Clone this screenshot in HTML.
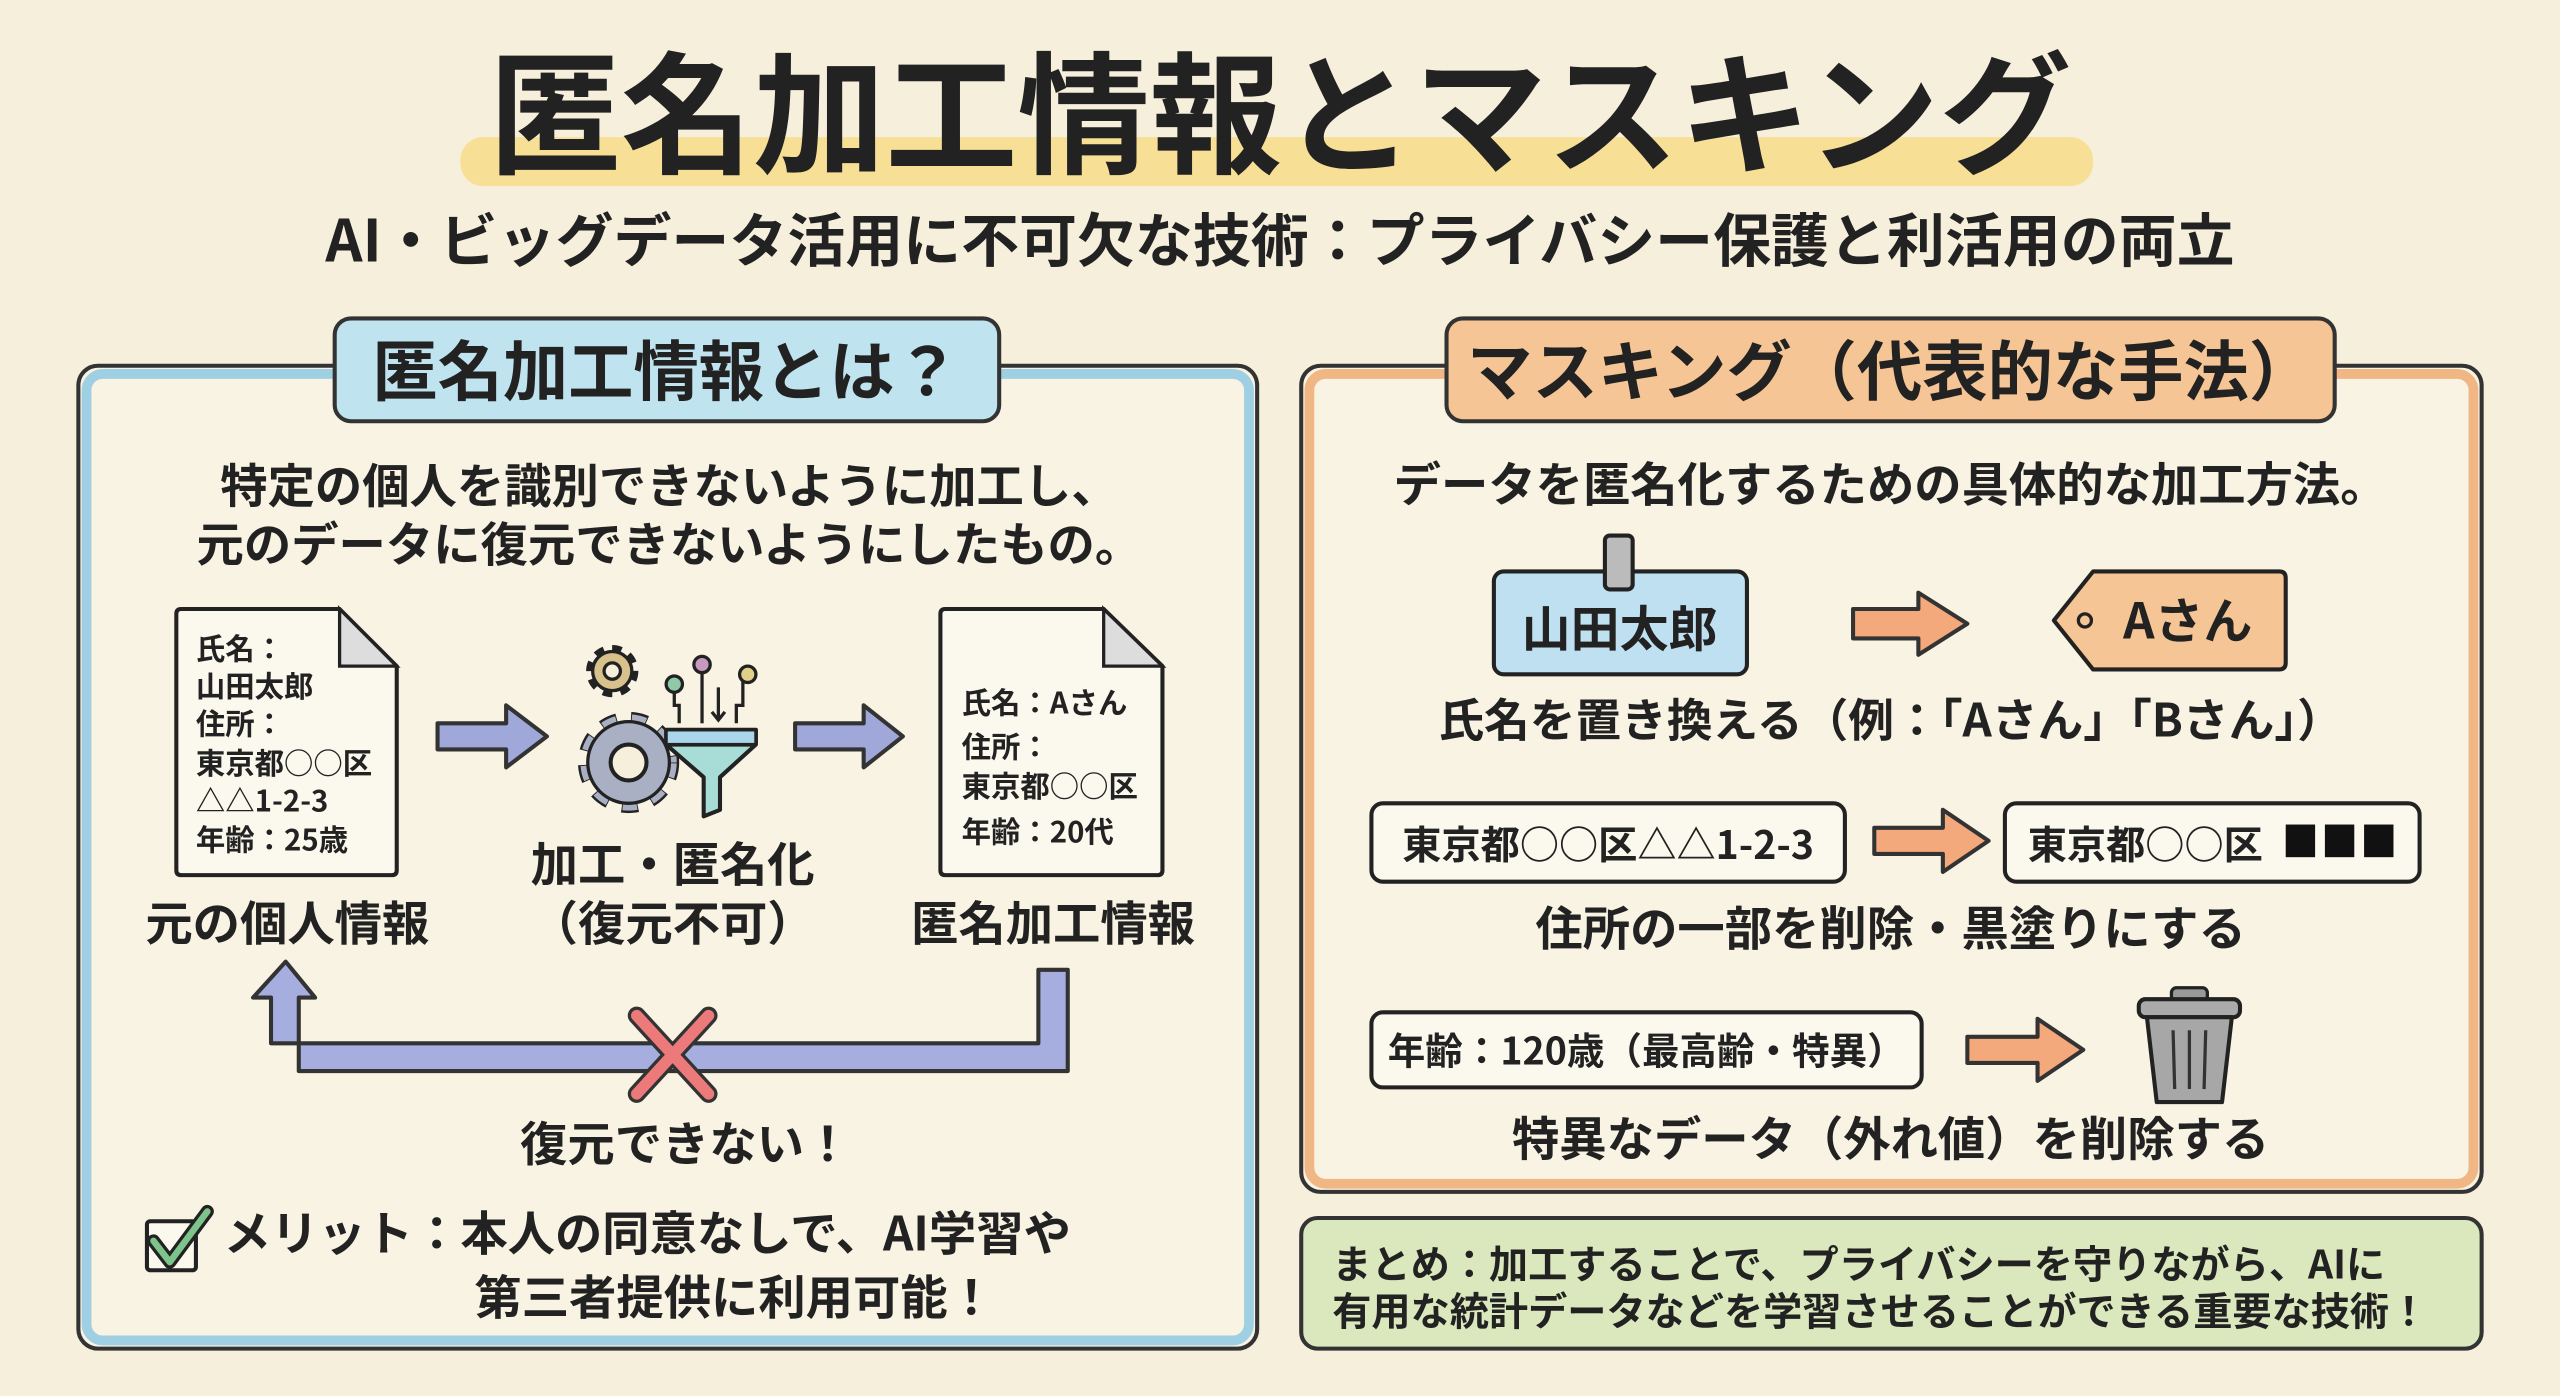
<!DOCTYPE html>
<html><head><meta charset="utf-8"><style>
html,body{margin:0;padding:0;background:#f6efdc;}
svg{display:block;}
text{font-family:"Noto Sans CJK JP","Liberation Sans",sans-serif;font-weight:700;fill:#222;}
</style></head><body>
<svg width="2560" height="1396" viewBox="0 0 1568 855" xmlns="http://www.w3.org/2000/svg">
<rect width="1568" height="855" fill="#f6efdc"/>
<rect x="282" y="84" width="1000" height="30" rx="14" fill="#f7dc8a" opacity="0.85"/>
<text x="784" y="100" font-size="81" text-anchor="middle" font-weight="900">匿名加工情報とマスキング</text>
<text x="784" y="160" font-size="35.5" text-anchor="middle">AI・ビッグデータ活用に不可欠な技術：プライバシー保護と利活用の両立</text>

<rect x="48" y="224" width="722" height="602" rx="12" fill="#f8f3e2" stroke="#333" stroke-width="2.5"/>
<rect x="53" y="229" width="712" height="592" rx="10" fill="none" stroke="#9fcfe2" stroke-width="6"/>
<rect x="205" y="195" width="407" height="63" rx="10" fill="#bfe3ef" stroke="#333" stroke-width="2.5"/>
<text x="408" y="242" font-size="40" text-anchor="middle">匿名加工情報とは？</text>
<text x="410" y="308" font-size="29" text-anchor="middle">特定の個人を識別できないように加工し、</text>
<text x="410" y="344" font-size="29" text-anchor="middle">元のデータに復元できないようにしたもの。</text>

<path d="M108 376 Q108 373 111 373 L208 373 L243 408 L243 533 Q243 536 240 536 L111 536 Q108 536 108 533 Z" fill="#fbf8ee" stroke="#222" stroke-width="2.5"/>
<path d="M208 373 L208 408 L243 408 Z" fill="#ddd" stroke="#222" stroke-width="2"/>
<g font-size="18" font-weight="700">
<text x="120" y="404">氏名：</text><text x="120" y="427">山田太郎</text><text x="120" y="450">住所：</text>
<text x="120" y="474">東京都○○区</text><text x="120" y="497">△△1-2-3</text><text x="120" y="521">年齢：25歳</text></g>
<path d="M576 376 Q576 373 579 373 L676 373 L712 408 L712 533 Q712 536 709 536 L579 536 Q576 536 576 533 Z" fill="#fbf8ee" stroke="#222" stroke-width="2.5"/>
<path d="M676 373 L676 408 L712 408 Z" fill="#ddd" stroke="#222" stroke-width="2"/>
<g font-size="18" font-weight="700">
<text x="589" y="437">氏名：Aさん</text><text x="589" y="464">住所：</text><text x="589" y="488">東京都○○区</text><text x="589" y="516">年齢：20代</text></g>
<path d="M268 443 L310 443 L310 432 L335 451 L310 470 L310 459 L268 459 Z" fill="#9fa8d8" stroke="#333" stroke-width="2.5" stroke-linejoin="round"/>
<path d="M487 443 L529 443 L529 432 L553 451 L529 470 L529 459 L487 459 Z" fill="#9fa8d8" stroke="#333" stroke-width="2.5" stroke-linejoin="round"/>
<circle cx="375" cy="411" r="12" fill="none" stroke="#222" stroke-width="8" stroke-dasharray="5 4.4"/>
<circle cx="375" cy="411" r="12" fill="#d8c28c" stroke="#222" stroke-width="2"/>
<circle cx="375" cy="411" r="5" fill="#f6efdc" stroke="#222" stroke-width="2"/>
<circle cx="385" cy="467" r="25" fill="none" stroke="#222" stroke-width="12" stroke-dasharray="9 8"/>
<circle cx="385" cy="467" r="25" fill="none" stroke="#aab0c4" stroke-width="9" stroke-dasharray="8 9" stroke-dashoffset="-0.5"/>
<circle cx="385" cy="467" r="25" fill="#aab0c4" stroke="#222" stroke-width="2"/>
<circle cx="385" cy="467" r="11" fill="#f6efdc" stroke="#222" stroke-width="2.5"/>
<g stroke="#222" stroke-width="2" fill="none">
<path d="M413 423 L413 432 L416 432 L416 443"/><path d="M430 412 L430 443"/><path d="M455 417 L455 432 L451 432 L451 443"/>
<path d="M440 421 L440 440 M436 436 L440 441 L444 436"/></g>
<circle cx="413" cy="419" r="5" fill="#8fc9a8" stroke="#222" stroke-width="2"/>
<circle cx="430" cy="407" r="5" fill="#c89ac0" stroke="#222" stroke-width="2"/>
<circle cx="458" cy="413" r="5" fill="#e2cf8a" stroke="#222" stroke-width="2"/>
<path d="M408 447 L463 447 L463 456 L441 476 L441 496 L431 500 L431 476 L408 456 Z" fill="#a8dcd6" stroke="#222" stroke-width="2.5" stroke-linejoin="round"/>
<line x1="408" y1="456" x2="463" y2="456" stroke="#222" stroke-width="2.5"/>
<rect x="409" y="448" width="53" height="7" fill="#a9d6ea"/>

<text x="176" y="576" font-size="29" text-anchor="middle">元の個人情報</text>
<text x="412" y="540" font-size="29" text-anchor="middle">加工・匿名化</text>
<text x="412" y="576" font-size="29" text-anchor="middle">（復元不可）</text>
<text x="645" y="576" font-size="29" text-anchor="middle">匿名加工情報</text>
<path d="M636 595 L654 595 L654 657 L183 657 L183 612 L193 612 L175 590 L155 612 L166 612 L166 640 L636 640 Z" fill="#a6aee0" stroke="#333" stroke-width="2.5" stroke-linejoin="round" transform="translate(0,-1)"/>
<path d="M390 622 L434 670 M434 622 L390 670" stroke="#333" stroke-width="11" stroke-linecap="round"/>
<path d="M390 622 L434 670 M434 622 L390 670" stroke="#ec7a7a" stroke-width="7" stroke-linecap="round"/>
<text x="420" y="711" font-size="29" text-anchor="middle">復元できない！</text>
<rect x="90" y="748" width="30" height="30" rx="2" fill="#fbf8ee" stroke="#222" stroke-width="2.5"/>
<path d="M94 760 L104 773 L127 742" stroke="#222" stroke-width="8" fill="none" stroke-linecap="round" stroke-linejoin="round"/>
<path d="M94 760 L104 773 L127 742" stroke="#7cc48a" stroke-width="4" fill="none" stroke-linecap="round" stroke-linejoin="round"/>
<text x="137" y="766" font-size="29">メリット：本人の同意なしで、AI学習や</text>
<text x="450" y="805" font-size="29" text-anchor="middle">第三者提供に利用可能！</text>

<rect x="797" y="224" width="723" height="506" rx="12" fill="#f8f3e2" stroke="#333" stroke-width="2.5"/>
<rect x="802" y="229" width="713" height="496" rx="10" fill="none" stroke="#f0b784" stroke-width="6"/>
<rect x="886" y="195" width="544" height="63" rx="10" fill="#f5c595" stroke="#333" stroke-width="2.5"/>
<text x="1158" y="242" font-size="40" text-anchor="middle">マスキング（代表的な手法）</text>
<text x="1158" y="307" font-size="29" text-anchor="middle">データを匿名化するための具体的な加工方法。</text>
<rect x="915" y="350" width="155" height="63" rx="6" fill="#bfe0f0" stroke="#222" stroke-width="2.5"/>
<rect x="983" y="328" width="17" height="33" rx="3" fill="#bbb" stroke="#222" stroke-width="2.5"/>
<text x="992" y="396" font-size="30" text-anchor="middle">山田太郎</text>
<path d="M1135 373 L1175 373 L1175 363 L1205 382 L1175 401 L1175 391 L1135 391 Z" fill="#f3a97c" stroke="#333" stroke-width="2.5" stroke-linejoin="round"/>
<path d="M1282 350 L1396 350 Q1400 350 1400 354 L1400 406 Q1400 410 1396 410 L1282 410 L1258 380 Z" fill="#f5c595" stroke="#222" stroke-width="2.5" stroke-linejoin="round"/>
<circle cx="1277" cy="380" r="4" fill="none" stroke="#222" stroke-width="2"/>
<text x="1340" y="391" font-size="30" text-anchor="middle">Aさん</text>
<text x="1158" y="451" font-size="28" text-anchor="middle">氏名を置き換える（例：「Aさん」「Bさん」）</text>
<rect x="840" y="492" width="290" height="48" rx="7" fill="#fbf8ee" stroke="#222" stroke-width="2.5"/>
<text x="985" y="526" font-size="24" text-anchor="middle">東京都○○区△△1-2-3</text>
<path d="M1148 507 L1190 507 L1190 496 L1218 515 L1190 534 L1190 523 L1148 523 Z" fill="#f3a97c" stroke="#333" stroke-width="2.5" stroke-linejoin="round"/>
<rect x="1228" y="492" width="254" height="48" rx="7" fill="#fbf8ee" stroke="#222" stroke-width="2.5"/>
<text x="1242" y="526" font-size="24">東京都○○区</text>
<rect x="1400" y="505" width="18" height="20" fill="#111"/><rect x="1424" y="505" width="18" height="20" fill="#111"/><rect x="1448" y="505" width="18" height="20" fill="#111"/>
<text x="1158" y="579" font-size="29" text-anchor="middle">住所の一部を削除・黒塗りにする</text>
<rect x="840" y="620" width="337" height="46" rx="7" fill="#fbf8ee" stroke="#222" stroke-width="2.5"/>
<text x="850" y="652" font-size="23">年齢：120歳（最高齢・特異）</text>
<path d="M1205 635 L1248 635 L1248 624 L1276 643 L1248 662 L1248 651 L1205 651 Z" fill="#f3a97c" stroke="#333" stroke-width="2.5" stroke-linejoin="round"/>
<rect x="1330" y="605" width="22" height="8" rx="3" fill="#999" stroke="#222" stroke-width="2"/>
<rect x="1310" y="612" width="62" height="11" rx="4" fill="#aaa" stroke="#222" stroke-width="2.5"/>
<path d="M1315 623 L1367 623 L1361 675 L1321 675 Z" fill="#a7a7a7" stroke="#222" stroke-width="2.5" stroke-linejoin="round"/>
<path d="M1331 631 L1332 667 M1341 631 L1341 667 M1351 631 L1350 667" stroke="#333" stroke-width="2"/>
<text x="1158" y="708" font-size="29" text-anchor="middle">特異なデータ（外れ値）を削除する</text>
<rect x="797" y="746" width="723" height="80" rx="10" fill="#dbe8bd" stroke="#333" stroke-width="2.5"/>
<text x="816" y="783" font-size="24">まとめ：加工することで、プライバシーを守りながら、AIに</text>
<text x="816" y="812" font-size="24">有用な統計データなどを学習させることができる重要な技術！</text>
</svg>
</body></html>
